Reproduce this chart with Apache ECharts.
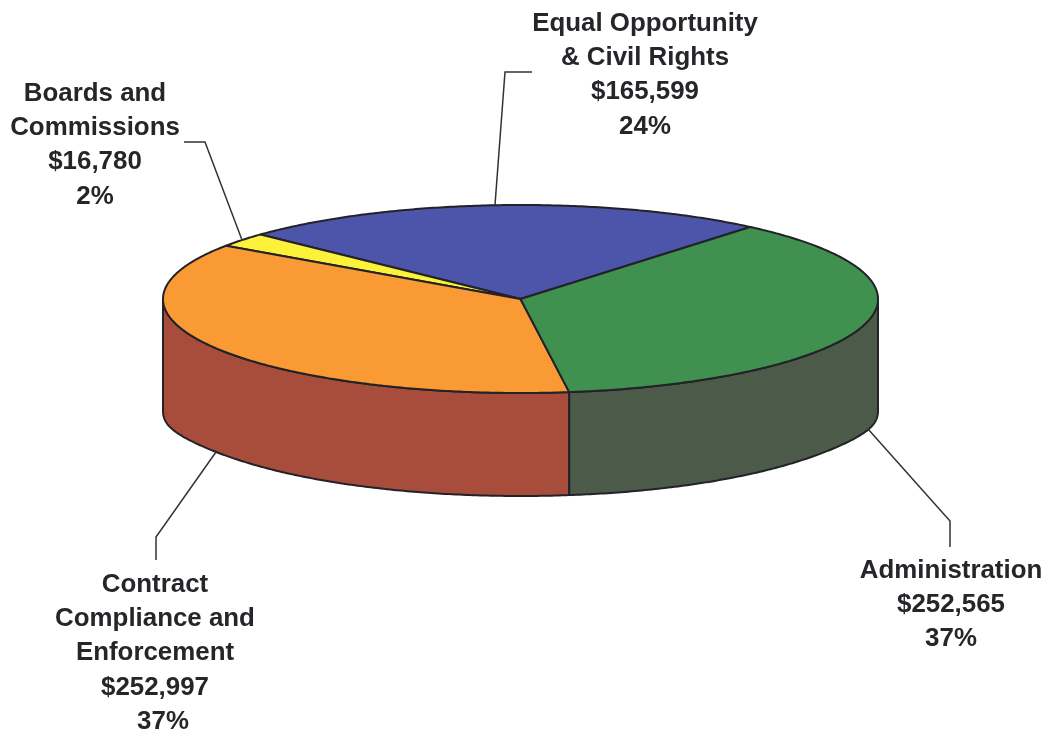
<!DOCTYPE html>
<html><head><meta charset="utf-8">
<style>html,body{margin:0;padding:0;background:#fff}#c{width:1046px;height:732px}</style>
<script src="https://cdn.jsdelivr.net/npm/echarts@6/dist/echarts.min.js"></script>
</head><body><div id="c"></div>
<script>
const categories = ['Equal Opportunity & Civil Rights','Boards and Commissions','Contract Compliance and Enforcement','Administration'];
const amounts = [165599, 16780, 252997, 252565];
const percentLabels = ['24%','2%','37%','37%'];
const amountLabels = ['$165,599','$16,780','$252,997','$252,565'];
const nameLines = [['Equal Opportunity','& Civil Rights'],['Boards and','Commissions'],['Contract','Compliance and','Enforcement'],['Administration']];
const topColors = ['#4c55a9','#fbf239','#f99a35','#40904f'];
const wallColors = ['#3a3f7c','#b0a92c','#a84d3b','#4b5a49'];

const CX=520.5, CY=299, RX=357.5, RY=94, DEPTH=103, CORNER=9, START=50*Math.PI/180;
const LINE='#222228', FONT='"Liberation Sans",Arial,sans-serif';
const total = amounts.reduce((a,b)=>a+b,0);
function span(i){let s=0;for(let k=0;k<i;k++)s+=amounts[k];return [START+2*Math.PI*s/total, START+2*Math.PI*(s+amounts[i])/total];}
function pt(t,dy){return [CX+RX*Math.cos(t), CY-RY*Math.sin(t)+(dy||0)];}
function arc(a,b,dy){const n=Math.max(2,Math.ceil(Math.abs(a-b)/0.01));const r=[];for(let j=0;j<=n;j++){const t=a+(b-a)*j/n;r.push(pt(t,dy?dy+CORNER*Math.pow(Math.cos(t),16):0));}return r;}

function renderTop(p,api){
  const i=api.value(0), [a,b]=span(i);
  return {type:'polygon',shape:{points:[[CX,CY],...arc(a,b)]},style:{fill:topColors[i],stroke:LINE,lineWidth:2,lineJoin:'round'}};
}
function renderWall(p,api){
  const i=api.value(0), [a,b]=span(i);
  const parts=[];
  const lo=Math.max(a,Math.PI), hi=Math.min(b,2*Math.PI);
  if(hi>lo) parts.push({type:'polygon',shape:{points:[...arc(lo,hi),...arc(hi,lo,DEPTH)]},style:{fill:wallColors[i],stroke:LINE,lineWidth:2,lineJoin:'round'}});
  return {type:'group',children:parts};
}
const labelLayout=[
 {x:645,y:24,lead:[[532,72],[505,72],[495,205]]},
 {x:95,y:94,lead:[[184,142],[205,142],[242,240]]},
 {x:155,y:585,lead:[[216,452],[156,537],[156,560]]},
 {x:951,y:571,lead:[[868,429],[950,521],[950,547]]}
];
function renderLabel(p,api){
  const i=api.value(0), L=labelLayout[i];
  const lines=[...nameLines[i],amountLabels[i],percentLabels[i]];
  const kids=[{type:'polyline',shape:{points:L.lead},style:{fill:null,stroke:'#333',lineWidth:1.5}}];
  lines.forEach((s,k)=>kids.push({type:'text',x:L.x+(i===2&&k===4?8:0),y:L.y+k*34.3,scaleX:1.035,style:{text:s,font:'bold 25px '+FONT,fill:'#26262a',textAlign:'center',textVerticalAlign:'middle'}}));
  return {type:'group',children:kids};
}
const idx=categories.map((c,i)=>[i,amounts[i]]);
const base={type:'custom',coordinateSystem:'none',silent:true,animation:false,clip:false,encode:{value:[0,1]}};
const chart=echarts.init(document.getElementById('c'),null,{renderer:'canvas'});
chart.setOption({animation:false,backgroundColor:'#fff',series:[
 {...base,name:'walls',z:1,data:idx,renderItem:renderWall},
 {...base,name:'tops',z:2,data:idx,renderItem:renderTop},
 {...base,name:'labels',z:3,data:idx,renderItem:renderLabel}
]});
</script></body></html>
